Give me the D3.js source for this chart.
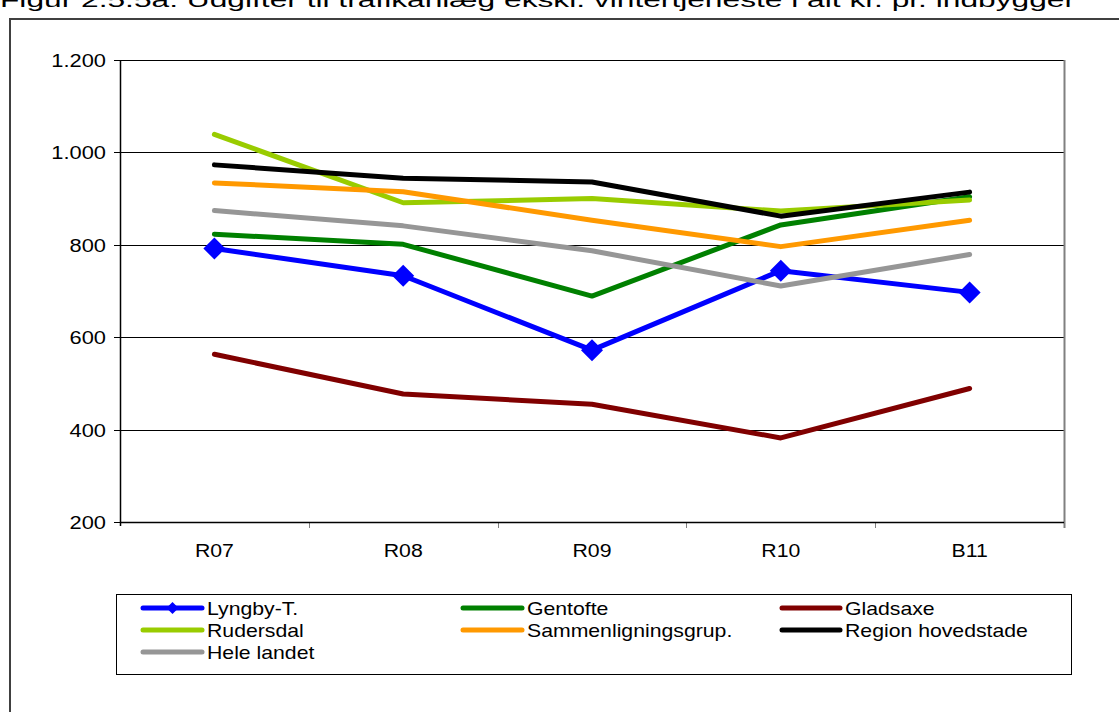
<!DOCTYPE html>
<html>
<head>
<meta charset="utf-8">
<script src="https://cdn.jsdelivr.net/npm/d3@7"></script>
<style>
  html, body { margin: 0; padding: 0; background: #fff; }
  svg { display: block; }
  text { font-family: "Liberation Sans", Arial, sans-serif; fill: #000; }
</style>
</head>
<body>
<svg id="chart" width="1119" height="712"></svg>
<script>
// ---- data ----
const categories = ["R07", "R08", "R09", "R10", "B11"];
const seriesNames = ["Lyngby-T.", "Gentofte", "Gladsaxe", "Rudersdal", "Sammenligningsgrup.", "Region hovedstade", "Hele landet"];
const lyngby     = [792, 733, 572, 744, 697];
const gentofte   = [823, 801, 689, 843, 904];
const gladsaxe   = [563, 477, 455, 382, 489];
const rudersdal  = [1039, 891, 900, 873, 897];
const sammenlign = [934, 915, 853, 796, 853];
const region     = [973, 944, 936, 862, 914];
const heleLandet = [874, 841, 787, 711, 779];
const yTicks = [200, 400, 600, 800, 1000, 1200];
const yTickLabels = ["200", "400", "600", "800", "1.000", "1.200"];
const titleText = "Figur 2.5.5a: Udgifter til trafikanlæg ekskl. vintertjeneste i alt kr. pr. indbygger";

const seriesValues = [lyngby, gentofte, gladsaxe, rudersdal, sammenlign, region, heleLandet];
const colors = ["#0000FF", "#008000", "#800000", "#99CC00", "#FF9900", "#000000", "#969696"];
const markers = [true, false, false, false, false, false, false];

// ---- layout ----
const svg = d3.select("#chart");
const plot = { left: 120, right: 1064, top: 60, bottom: 522 };

const x = d3.scaleBand().domain(categories).range([plot.left, plot.right]).padding(0);
const y = d3.scaleLinear().domain([200, 1200]).range([plot.bottom, plot.top]);

function stretchedText(g, str, tx, ty, size, sx, anchor) {
  return g.append("text")
    .attr("transform", `translate(${tx},${ty}) scale(${sx},1)`)
    .attr("text-anchor", anchor || "start")
    .style("font-size", size + "px")
    .text(str);
}

// Title (partially cut at top)
svg.append("text")
  .attr("x", 0).attr("y", 7)
  .attr("textLength", 1075).attr("lengthAdjust", "spacingAndGlyphs")
  .style("font-size", "20px")
  .text(titleText);

// Chart-area border
svg.append("rect")
  .attr("x", 10).attr("y", 19).attr("width", 1200).attr("height", 800)
  .attr("fill", "none").attr("stroke", "#404040").attr("stroke-width", 2);

// Gridlines
svg.append("g").selectAll("line").data(yTicks.filter(d => d !== 200)).join("line")
  .attr("x1", plot.left).attr("x2", plot.right)
  .attr("y1", d => Math.round(y(d)) + 0.5).attr("y2", d => Math.round(y(d)) + 0.5)
  .attr("stroke", "#000").attr("stroke-width", 1);

// Right plot edge (gray)
svg.append("line")
  .attr("x1", plot.right + 0.5).attr("x2", plot.right + 0.5)
  .attr("y1", plot.top).attr("y2", plot.bottom + 6)
  .attr("stroke", "#808080").attr("stroke-width", 2);

// Bottom axis ticks at category boundaries
const boundaries = categories.map(c => x(c)).slice(1);
svg.append("g").selectAll("line").data(boundaries).join("line")
  .attr("x1", d => Math.round(d) + 0.5).attr("x2", d => Math.round(d) + 0.5)
  .attr("y1", plot.bottom).attr("y2", plot.bottom + 6)
  .attr("stroke", "#808080").attr("stroke-width", 1);

// Bottom axis line
svg.append("line")
  .attr("x1", plot.left).attr("x2", plot.right)
  .attr("y1", plot.bottom + 0.5).attr("y2", plot.bottom + 0.5)
  .attr("stroke", "#000").attr("stroke-width", 1.5);

// Left axis line and ticks
svg.append("line")
  .attr("x1", plot.left + 0.5).attr("x2", plot.left + 0.5)
  .attr("y1", plot.top).attr("y2", plot.bottom + 4)
  .attr("stroke", "#000").attr("stroke-width", 1.5);
svg.append("g").selectAll("line").data(yTicks).join("line")
  .attr("x1", plot.left - 6).attr("x2", plot.left)
  .attr("y1", d => Math.round(y(d)) + 0.5).attr("y2", d => Math.round(y(d)) + 0.5)
  .attr("stroke", "#000").attr("stroke-width", 1);

// Y tick labels
const yLab = svg.append("g");
yTicks.forEach((t, i) => {
  stretchedText(yLab, yTickLabels[i], 106, y(t) + 7, 19, 1.15, "end");
});

// X tick labels
const xLab = svg.append("g");
categories.forEach(c => {
  stretchedText(xLab, c, x(c) + x.bandwidth() / 2, 557, 19, 1.12, "middle");
});

// Lines
const line = d3.line()
  .x((d, i) => x(categories[i]) + x.bandwidth() / 2)
  .y(d => y(d));

const linesG = svg.append("g");
seriesValues.forEach((vals, s) => {
  linesG.append("path")
    .datum(vals)
    .attr("d", line)
    .attr("fill", "none")
    .attr("stroke", colors[s])
    .attr("stroke-width", 5)
    .attr("stroke-linecap", "round")
    .attr("stroke-linejoin", "round");
  if (markers[s]) {
    linesG.append("g").selectAll("path").data(vals).join("path")
      .attr("transform", (d, i) => `translate(${x(categories[i]) + x.bandwidth() / 2},${y(d)})`)
      .attr("d", "M0,-11L11,0L0,11L-11,0Z")
      .attr("fill", colors[s]);
  }
});

// Legend
svg.append("rect")
  .attr("x", 116.5).attr("y", 594.5).attr("width", 955).attr("height", 80)
  .attr("fill", "#fff").attr("stroke", "#000").attr("stroke-width", 1);

const legCols = [{ x1: 143, x2: 202, tx: 207 }, { x1: 463, x2: 522, tx: 527 }, { x1: 782, x2: 840, tx: 845 }];
const legRows = [608, 630, 652];
const legG = svg.append("g");
seriesNames.forEach((name, s) => {
  const col = legCols[s % 3];
  const ry = legRows[Math.floor(s / 3)];
  legG.append("line")
    .attr("x1", col.x1).attr("x2", col.x2)
    .attr("y1", ry).attr("y2", ry)
    .attr("stroke", colors[s]).attr("stroke-width", 5)
    .attr("stroke-linecap", "round");
  if (markers[s]) {
    const cx = (col.x1 + col.x2) / 2;
    legG.append("path")
      .attr("transform", `translate(${cx},${ry})`)
      .attr("d", "M0,-6L6,0L0,6L-6,0Z")
      .attr("fill", colors[s]);
  }
  stretchedText(legG, name, col.tx, ry + 6.5, 18, 1.18, "start");
});
</script>
</body>
</html>
